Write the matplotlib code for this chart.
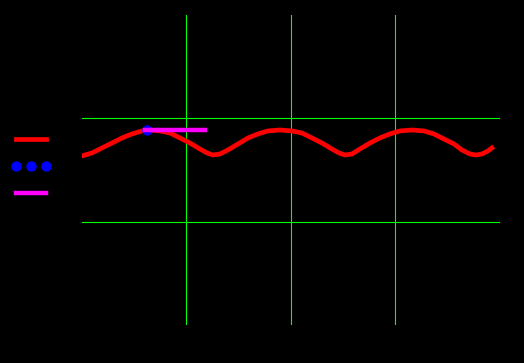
import matplotlib
matplotlib.use('Agg')
import matplotlib.pyplot as plt

# curve samples
curve_x = [0.00, 0.096, 0.191, 0.287, 0.383, 0.478, 0.574, 0.651, 0.746, 0.842,
           0.938, 1.033, 1.129, 1.196, 1.254, 1.321, 1.397, 1.493, 1.589, 1.684,
           1.780, 1.895, 2.010, 2.105, 2.201, 2.297, 2.392, 2.459, 2.517, 2.584,
           2.660, 2.756, 2.852, 2.947, 3.043, 3.158, 3.273, 3.368, 3.464, 3.560,
           3.636, 3.713, 3.770, 3.828, 3.885, 3.923]
curve_y = [0.136, 0.165, 0.213, 0.261, 0.310, 0.349, 0.378, 0.387, 0.378, 0.358,
           0.310, 0.261, 0.203, 0.165, 0.145, 0.155, 0.194, 0.252, 0.310, 0.349,
           0.378, 0.387, 0.378, 0.358, 0.310, 0.261, 0.203, 0.165, 0.145, 0.155,
           0.203, 0.261, 0.310, 0.349, 0.378, 0.387, 0.378, 0.349, 0.300, 0.252,
           0.194, 0.155, 0.145, 0.155, 0.184, 0.213]

point_x = [0.622]
point_y = [0.387]

seg_x = [0.603, 1.177]
seg_y = [0.387, 0.387]

x_ticks = [1, 2, 3]
y_ticks = [-0.5, 0.5]

fig = plt.figure(figsize=(5.24, 3.63), dpi=100, facecolor='black')
ax = fig.add_axes([0.1565, 0.1047, 0.7975, 0.854])
ax.set_facecolor('black')

ax.plot(curve_x, curve_y, color='red', lw=3.4, label='curve', zorder=3)
ax.plot(point_x, point_y, 'o', color='blue', ms=6.5, label='points', zorder=4)
ax.plot(seg_x, seg_y, color='magenta', lw=3.2, label='segment', zorder=5)

ax.set_xlim(0, 4)
ax.set_ylim(-1.5, 1.5)
ax.set_xticks(x_ticks)
ax.set_yticks(y_ticks)
ax.tick_params(length=0, labelcolor='black')
ax.grid(True, color='#00ff00', lw=0.8)
for s in ax.spines.values():
    s.set_visible(False)

fig.legend(loc='center left', bbox_to_anchor=(0.022, 0.541), frameon=False,
           numpoints=3, handlelength=2.75, borderpad=0, borderaxespad=0,
           labelspacing=0.95, fontsize=10, labelcolor='black')

plt.savefig('out.png', facecolor='black')
